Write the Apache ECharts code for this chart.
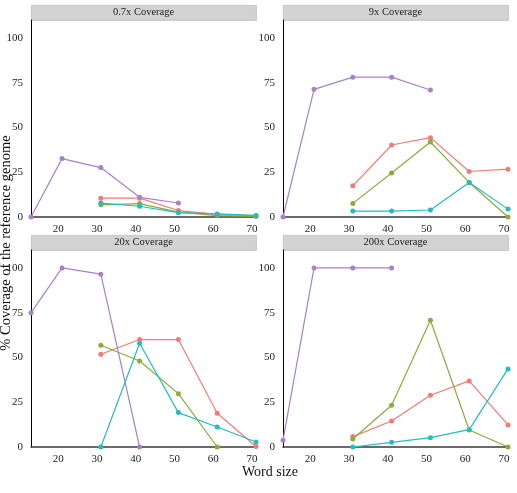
<!DOCTYPE html>
<html>
<head>
<meta charset="utf-8">
<title>Coverage by word size</title>
<script src="https://cdn.jsdelivr.net/npm/echarts@6/dist/echarts.min.js"></script>
<style>
  html, body { margin: 0; padding: 0; background: #fff; }
  #chart { width: 517px; height: 493px; }
</style>
</head>
<body>
<div id="chart"></div>
<script>
// word sizes (x) shared by every panel
var wordSizes = [13, 21, 31, 41, 51, 61, 71];
var panelNames = ['0.7x Coverage', '9x Coverage', '20x Coverage', '200x Coverage'];
var xTicks = [20, 30, 40, 50, 60, 70];
var yTicks = [0, 25, 50, 75, 100];

// % coverage per panel, one array per line (null = no point)
var red    = [[null, null, 10.5, 10.5, 3.6, 1.5, 0.7],
              [null, null, 17.4, 40.2, 44.3, 25.4, 26.7],
              [null, null, 51.8, 60, 60, 18.8, 0.3],
              [null, null, 5.8, 14.5, 28.9, 36.9, 12.3]];
var green  = [[null, null, 6.8, 7.5, 2.7, 0.8, 0.3],
              [null, null, 7.6, 24.6, 41.9, 19.3, 0],
              [null, null, 56.8, 48, 29.8, 0, null],
              [null, null, 4.5, 23.3, 70.8, 9.5, 0]];
var cyan   = [[null, null, 7.8, 6, 2.4, 1.7, 0.9],
              [null, null, 3.3, 3.3, 3.9, 19.3, 4.4],
              [null, null, 0, 57.9, 19.2, 11.2, 2.8],
              [null, null, 0, 2.6, 5.2, 9.7, 43.6]];
var purple = [[0, 32.6, 27.6, 11, 7.8, null, null],
              [0, 71.3, 78.1, 78.1, 70.9, null, null],
              [74.9, 100, 96.5, 0, null, null, null],
              [3.7, 100, 100, 100, null, null, null]];

var lineColors = ['#F27C74', '#86AE3A', '#23BCC2', '#A881C9'];
var lineData = [red, green, cyan, purple];

// panel boxes: left, top, width, height
var boxes = [
  [31, 20, 225, 197],
  [283, 20, 225, 197],
  [31, 250, 225, 197],
  [283, 250, 225, 197]
];

var chart = echarts.init(document.getElementById('chart'));
var grids = [], xAxes = [], yAxes = [], series = [], graphics = [];

boxes.forEach(function (b, i) {
  grids.push({ left: b[0], top: b[1], width: b[2], height: b[3], containLabel: false });
  xAxes.push({
    type: 'value', gridIndex: i, min: 13, max: 71,
    axisLine: { show: true, onZero: false, lineStyle: { color: '#3a3a3a', width: 1.5 } },
    axisTick: { show: false },
    splitLine: { show: false },
    axisLabel: { customValues: xTicks, color: '#222', fontFamily: 'Liberation Serif', fontSize: 11, margin: 7 }
  });
  yAxes.push({
    type: 'value', gridIndex: i, min: 0, max: 110,
    axisLine: { show: true, lineStyle: { color: '#000', width: 1 } },
    axisTick: { show: false },
    splitLine: { show: false },
    axisLabel: { customValues: yTicks, color: '#222', fontFamily: 'Liberation Serif', fontSize: 11, margin: 8 }
  });
  // strip above each panel
  graphics.push({
    type: 'rect', left: b[0], top: b[1] - 15,
    shape: { width: b[2], height: 15 },
    style: { fill: '#d3d3d3', stroke: '#bdbdbd', lineWidth: 0.8 }
  });
  graphics.push({
    type: 'text', x: b[0] + b[2] / 2, y: b[1] - 7.5,
    style: { text: panelNames[i], fill: '#222', font: '10.5px "Liberation Serif"', align: 'center', verticalAlign: 'middle' }
  });
  lineData.forEach(function (vals, k) {
    var pts = [];
    vals[i].forEach(function (v, j) {
      if (v !== null) pts.push([wordSizes[j], v]);
    });
    series.push({
      type: 'line', xAxisIndex: i, yAxisIndex: i, data: pts,
      symbol: 'circle', symbolSize: 5, clip: true,
      lineStyle: { color: lineColors[k], width: 1.2 },
      itemStyle: { color: lineColors[k] },
      animation: false
    });
  });
});

graphics.push({
  type: 'text', x: 270, y: 472,
  style: { text: 'Word size', fill: '#111', font: '14px "Liberation Serif"', align: 'center', verticalAlign: 'middle' }
});
graphics.push({
  type: 'text', x: 6, y: 243, rotation: Math.PI / 2,
  style: { text: '% Coverage of the reference genome', fill: '#111', font: '14.5px "Liberation Serif"', align: 'center', verticalAlign: 'middle' }
});

chart.setOption({
  animation: false,
  grid: grids,
  xAxis: xAxes,
  yAxis: yAxes,
  series: series,
  graphic: graphics
});
</script>
</body>
</html>
